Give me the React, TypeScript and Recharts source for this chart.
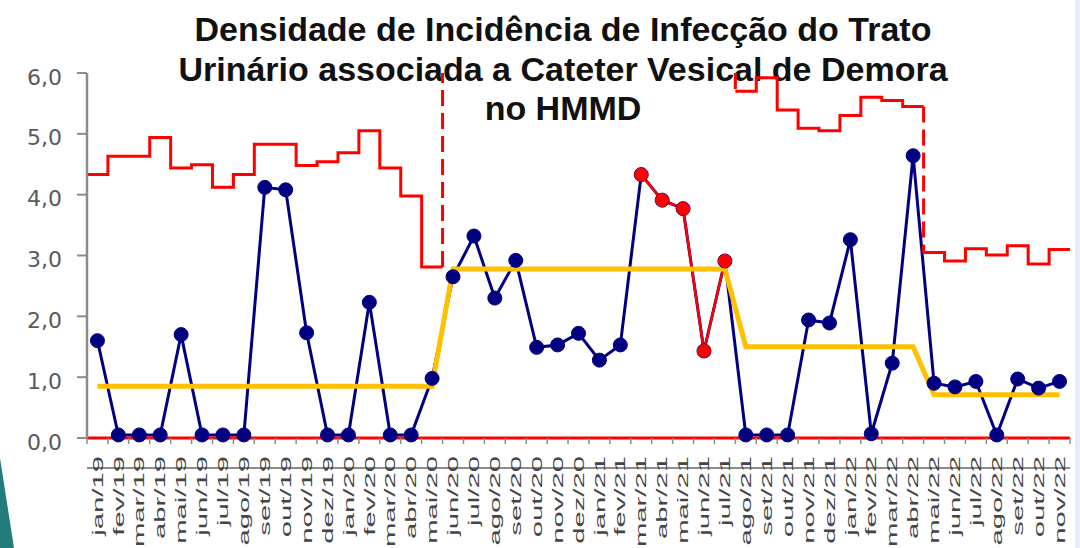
import React from 'react';
import { LineChart, Line, XAxis, YAxis } from 'recharts';

const months = [
  'jan/19', 'fev/19', 'mar/19', 'abr/19', 'mai/19', 'jun/19', 'jul/19', 'ago/19', 'set/19', 'out/19', 'nov/19', 'dez/19',
  'jan/20', 'fev/20', 'mar/20', 'abr/20', 'mai/20', 'jun/20', 'jul/20', 'ago/20', 'set/20', 'out/20', 'nov/20', 'dez/20',
  'jan/21', 'fev/21', 'mar/21', 'abr/21', 'mai/21', 'jun/21', 'jul/21', 'ago/21', 'set/21', 'out/21', 'nov/21', 'dez/21',
  'jan/22', 'fev/22', 'mar/22', 'abr/22', 'mai/22', 'jun/22', 'jul/22', 'ago/22', 'set/22', 'out/22', 'nov/22',
];

// Densidade de incidência (por mês)
const rate = [
  1.6, 0.05, 0.05, 0.05, 1.7, 0.05, 0.05, 0.05, 4.12, 4.08, 1.73, 0.05,
  0.05, 2.23, 0.05, 0.05, 0.98, 2.65, 3.32, 2.3, 2.92, 1.49, 1.53, 1.72,
  1.28, 1.53, 4.33, 3.91, 3.77, 1.43, 2.91, 0.05, 0.05, 0.05, 1.94, 1.89,
  3.26, 0.07, 1.23, 4.64, 0.9, 0.84, 0.93, 0.05, 0.97, 0.82, 0.93,
];

// Pontos fora de controle (sequência destacada em vermelho)
const outOfControl = [
  null, null, null, null, null, null, null, null, null, null, null, null,
  null, null, null, null, null, null, null, null, null, null, null, null,
  null, null, 4.33, 3.91, 3.77, 1.43, 2.91, null, null, null, null, null,
  null, null, null, null, null, null, null, null, null, null, null,
];

// Linha central (média de cada fase)
const centerLine = [
  0.85, 0.85, 0.85, 0.85, 0.85, 0.85, 0.85, 0.85, 0.85, 0.85, 0.85, 0.85,
  0.85, 0.85, 0.85, 0.85, 0.85, 2.78, 2.78, 2.78, 2.78, 2.78, 2.78, 2.78,
  2.78, 2.78, 2.78, 2.78, 2.78, 2.78, 2.78, 1.5, 1.5, 1.5, 1.5, 1.5,
  1.5, 1.5, 1.5, 1.5, 0.71, 0.71, 0.71, 0.71, 0.71, 0.71, 0.71,
];

// Limite superior de controle (null = acima da escala)
const upperLimit = [
  4.33, 4.63, 4.63, 4.94, 4.44, 4.49, 4.12, 4.33, 4.83, 4.83, 4.48, 4.54,
  4.69, 5.05, 4.44, 3.98, 2.81, null, null, null, null, null, null, null,
  null, null, null, null, null, null, null, 5.7, 5.92, 5.39, 5.09, 5.05,
  5.3, 5.6, 5.55, 5.45, 3.05, 2.91, 3.11, 3.01, 3.16, 2.86, 3.1,
];

// Limite inferior de controle
const lowerLimit = [
  0, 0, 0, 0, 0, 0, 0, 0, 0, 0, 0, 0,
  0, 0, 0, 0, 0, 0, 0, 0, 0, 0, 0, 0,
  0, 0, 0, 0, 0, 0, 0, 0, 0, 0, 0, 0,
  0, 0, 0, 0, 0, 0, 0, 0, 0, 0, 0,
];

// Índice do primeiro mês de cada fase
const phaseStarts = [0, 17, 31, 40];

const yTicks = [0, 1, 2, 3, 4, 5, 6];
const Y_MAX = 6;

const titleLines = [
  'Densidade de Incidência de Infecção do Trato',
  'Urinário associada a Cateter Vesical de Demora',
  'no HMMD',
];

const chartData = months.map((m, i) => ({
  month: m,
  rate: rate[i],
  red: outOfControl[i],
  cl: centerLine[i],
}));

const n = months.length;
const phaseEnds = phaseStarts.map((s, k) => (k + 1 < phaseStarts.length ? phaseStarts[k + 1] : n));

const uclSegments: { x: number; y: number }[][] = [];
phaseStarts.forEach((s, k) => {
  const e = phaseEnds[k];
  const pts: { x: number; y: number }[] = [];
  let ok = true;
  for (let i = s; i < e; i++) {
    const v = upperLimit[i];
    if (v == null) { ok = false; break; }
    pts.push({ x: i, y: v });
  }
  if (ok) {
    pts.push({ x: e, y: upperLimit[e - 1] as number });
    uclSegments.push(pts);
  }
});

const uclConnectors = phaseStarts.slice(1).map((b) => [
  { x: b, y: (upperLimit[b - 1] ?? Y_MAX) as number },
  { x: b, y: (upperLimit[b] ?? Y_MAX) as number },
]);

const lclData = lowerLimit.map((v, i) => ({ x: i, y: v })).concat([{ x: n, y: lowerLimit[n - 1] }]);

const numTicks: number[] = [];
for (let i = 0; i <= n; i++) {
  numTicks.push(i);
  if (i < n) numTicks.push(i + 0.5);
}

const AXIS_Y = 438;

const XTick = (props: any) => {
  const { x, payload } = props;
  const v = payload.value as number;
  if (Number.isInteger(v)) {
    return <line x1={x} x2={x} y1={AXIS_Y} y2={AXIS_Y + 6} stroke="#8c8c8c" strokeWidth={1.5} />;
  }
  const label = months[Math.floor(v)];
  return (
    <text
      transform={`translate(${x},${AXIS_Y + 18}) rotate(-90) scale(1.95,1)`}
      textAnchor="end"
      dominantBaseline="central"
      fontSize={15}
      fontFamily="'Liberation Sans', Arial, sans-serif"
      fill="#454545"
    >
      {label}
    </text>
  );
};

const YTick = (props: any) => {
  const { x, y, payload } = props;
  return (
    <text
      x={x}
      y={y + 4}
      textAnchor="end"
      dominantBaseline="central"
      fontSize={22}
      fontFamily="'DejaVu Sans', Verdana, sans-serif"
      fill="#5a5a5a"
    >
      {(payload.value as number).toFixed(1).replace('.', ',')}
    </text>
  );
};

export default function App() {
  return (
    <div style={{ position: 'absolute', left: 0, top: 0, width: 1080, height: 548, background: '#ffffff', overflow: 'hidden' }}>
      <svg width={1080} height={548} style={{ position: 'absolute', left: 0, top: 0 }}>
        <polygon points="0,458 14,548 0,548" fill="#217c7c" />
        <rect x={1075} y={0} width={5} height={548} fill="#e4edf8" />
        {titleLines.map((t, i) => (
          <text
            key={i}
            x={563}
            y={41 + i * 39.5}
            textAnchor="middle"
            fontSize={34}
            fontWeight="bold"
            fontFamily="'Liberation Sans', Arial, sans-serif"
            fill="#111111"
          >
            {t}
          </text>
        ))}
      </svg>
      <div style={{ position: 'absolute', left: 0, top: 0 }}>
        <LineChart width={1080} height={548} data={chartData} margin={{ top: 73, right: 10, bottom: 0, left: 0 }}>
          <XAxis xAxisId="c" dataKey="month" scale="band" hide />
          <XAxis
            xAxisId="n"
            type="number"
            dataKey="x"
            domain={[0, n]}
            ticks={numTicks}
            interval={0}
            tickLine={false}
            tickSize={0}
            tickMargin={0}
            tick={<XTick />}
            axisLine={{ stroke: '#8c8c8c', strokeWidth: 2 }}
            height={110}
          />
          <YAxis
            domain={[0, Y_MAX]}
            ticks={yTicks}
            width={87}
            tickSize={10}
            tickMargin={15}
            tickLine={{ stroke: '#8c8c8c', strokeWidth: 2 }}
            axisLine={{ stroke: '#8c8c8c', strokeWidth: 2.5 }}
            tick={<YTick />}
          />
          <Line
            xAxisId="c"
            dataKey="rate"
            type="linear"
            stroke="#000080"
            strokeWidth={3}
            dot={{ r: 7, fill: '#000080', stroke: '#000080', strokeWidth: 1 }}
            isAnimationActive={false}
          />
          <Line
            xAxisId="c"
            dataKey="red"
            type="linear"
            stroke="#ff0000"
            strokeWidth={2.5}
            dot={{ r: 6.5, fill: '#ff0000', stroke: '#ff0000', strokeWidth: 1 }}
            connectNulls={false}
            isAnimationActive={false}
          />
          <Line
            xAxisId="c"
            dataKey="cl"
            type="linear"
            stroke="#ffc000"
            strokeWidth={5}
            dot={false}
            isAnimationActive={false}
          />
          {uclSegments.map((seg, k) => (
            <Line
              key={'ucl' + k}
              xAxisId="n"
              data={seg}
              dataKey="y"
              type="stepAfter"
              stroke="#ff0000"
              strokeWidth={3}
              dot={false}
              isAnimationActive={false}
            />
          ))}
          {uclConnectors.map((seg, k) => (
            <Line
              key={'con' + k}
              xAxisId="n"
              data={seg}
              dataKey="y"
              type="linear"
              stroke="#ff0000"
              strokeWidth={3}
              strokeDasharray="16 7"
              dot={false}
              isAnimationActive={false}
            />
          ))}
          <Line
            xAxisId="n"
            data={lclData}
            dataKey="y"
            type="stepAfter"
            stroke="#ff0000"
            strokeWidth={3}
            dot={false}
            isAnimationActive={false}
          />
        </LineChart>
      </div>
    </div>
  );
}
